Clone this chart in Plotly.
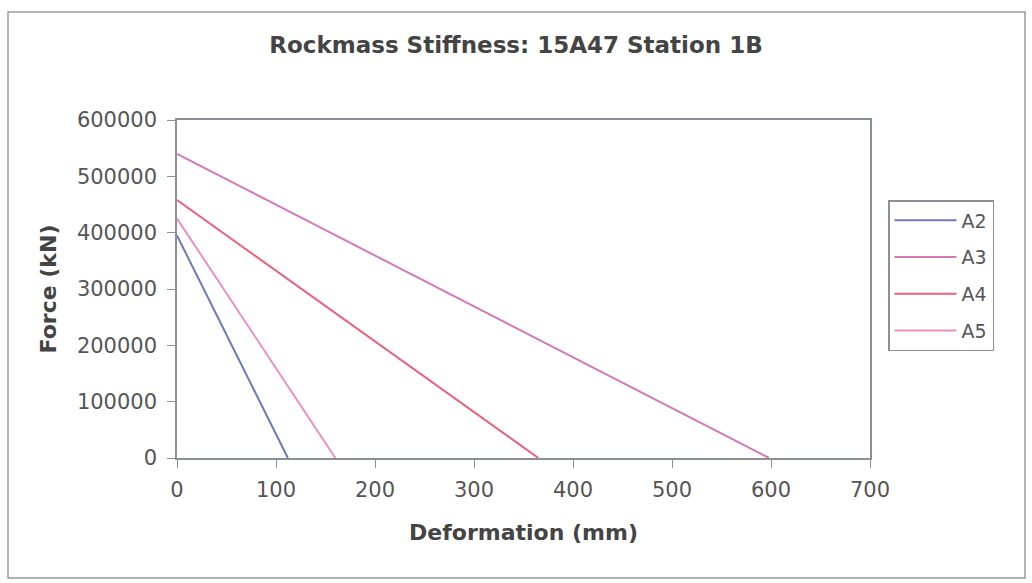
import plotly.graph_objects as go

# Load lines: force drops linearly from the intercept to zero deformation
series_names = ["A2", "A3", "A4", "A5"]
deformation_mm = {
    "A2": [0, 112],
    "A3": [0, 598],
    "A4": [0, 365],
    "A5": [0, 160],
}
force_kn = {
    "A2": [395000, 0],
    "A3": [540000, 0],
    "A4": [458000, 0],
    "A5": [425000, 0],
}
colors = {
    "A2": "#6f78b4",
    "A3": "#d27ab8",
    "A4": "#e8607e",
    "A5": "#ea90c0",
}
x_ticks = [0, 100, 200, 300, 400, 500, 600, 700]
y_ticks = [0, 100000, 200000, 300000, 400000, 500000, 600000]

fig = go.Figure()
for name in series_names:
    fig.add_trace(go.Scatter(
        x=deformation_mm[name], y=force_kn[name], name=name, mode="lines",
        legendgroup=name,
        line=dict(color=colors[name], width=2),
    ))

W, H = 1032, 583
L, R, T, B = 177, 162, 120, 125
pw, ph = W - L - R, H - T - B

def px_x(p):
    return (p - L) / pw

def px_y(p):
    return (H - B - p) / ph

font = "DejaVu Sans, Verdana, sans-serif"
axis_common = dict(
    showgrid=False, zeroline=False, showline=True, linecolor="#8a8f99",
    linewidth=1.5, mirror=True, ticks="outside", ticklen=8, tickcolor="#8a8f99",
    tickfont=dict(family=font, size=21, color="#555555"),
)

fig.update_layout(
    width=W, height=H,
    margin=dict(l=L, r=R, t=T, b=B),
    paper_bgcolor="white", plot_bgcolor="white",
    font=dict(family=font, color="#444444"),
    title=dict(
        text="<b>Rockmass Stiffness: 15A47 Station 1B</b>",
        x=516 / W, xref="container", xanchor="center",
        y=1 - 45 / H, yref="container", yanchor="middle",
        font=dict(family=font, size=23, color="#444444"),
    ),
    xaxis=dict(
        range=[0, 700], tickvals=x_ticks, ticklabelstandoff=4,
        title=dict(text="<b>Deformation (mm)</b>", font=dict(family=font, size=22, color="#444444"), standoff=24),
        **axis_common,
    ),
    yaxis=dict(
        range=[0, 600000], tickvals=y_ticks, tickformat="d", ticklabelstandoff=6,
        title=dict(text="<b>Force (kN)</b>", font=dict(family=font, size=22, color="#444444"), standoff=14),
        **axis_common,
    ),
    legend=dict(
        x=px_x(888), y=px_y(200), xanchor="left", yanchor="top",
        bordercolor="#8a8f99", borderwidth=1.5, bgcolor="white",
        font=dict(family=font, size=19, color="#555555"),
        tracegroupgap=9, itemwidth=62,
    ),
    shapes=[
        dict(type="rect", xref="paper", yref="paper",
             x0=px_x(8), x1=px_x(1025), y0=px_y(578), y1=px_y(12),
             line=dict(color="#9a9a9a", width=1.5), layer="below"),
    ],
)

fig.write_html("out.html")
